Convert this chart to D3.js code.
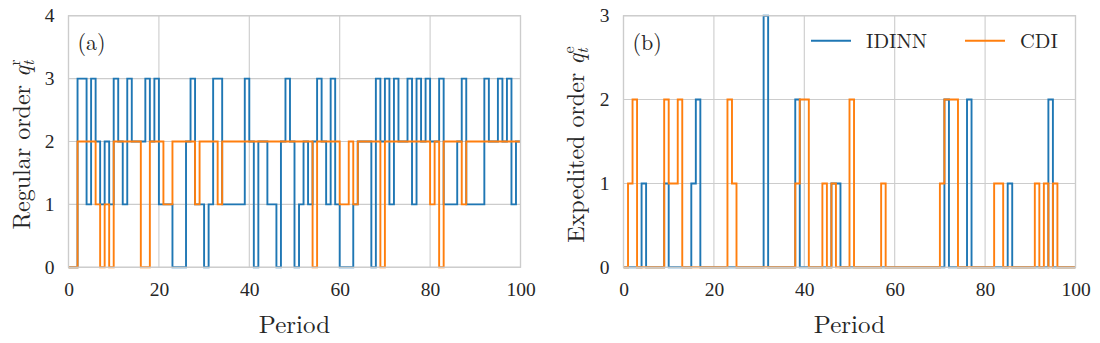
<!DOCTYPE html>
<html><head><meta charset="utf-8">
<script src="https://cdn.jsdelivr.net/npm/d3@7"></script>
<style>
body{margin:0;background:#fff}
svg{display:block}
text{font-family:"Latin Modern Roman","CMU Serif","Liberation Serif","Times New Roman",serif;fill:#262626}
</style>
</head><body><svg id="c" width="1100" height="343"></svg>
<script>
// ---------- data ----------
const xTicks = [0, 20, 40, 60, 80, 100];
const yTicksA = [0, 1, 2, 3, 4];
const yTicksB = [0, 1, 2, 3];
const seriesNames = ["IDINN", "CDI"];

// Panel (a): regular order per period 0..99
const regularIDINN = [0,0,3,3,1,3,2,1,2,1, 3,2,1,3,2,2,2,3,2,3, 1,1,1,0,0,0,2,3,1,1,
  0,1,3,3,1,1,1,1,1,3, 2,0,2,2,1,1,0,2,3,2, 0,1,2,1,2,3,2,1,3,1,
  0,0,0,1,2,2,2,0,3,2, 3,1,3,2,2,3,1,3,2,3, 2,2,3,1,1,1,2,3,1,1, 1,1,3,2,2,3,2,3,1,2];
const regularCDI = [0,0,2,2,2,2,1,0,1,0, 2,2,2,2,2,2,0,0,2,2, 2,1,1,2,2,2,2,2,1,2,
  2,2,2,1,2,2,2,2,2,2, 2,2,2,2,2,2,2,2,2,2, 2,2,2,2,0,2,2,2,2,2,
  1,1,2,1,2,2,2,2,2,0, 2,2,2,2,2,2,2,2,2,2, 1,2,0,2,2,2,2,1,2,2, 2,2,2,2,2,2,2,2,2,2];

// Panel (b): expedited order per period 0..99
const expeditedIDINN = [0,0,0,0,1,0,0,0,0,1, 0,0,0,0,0,1,2,0,0,0, 0,0,0,0,0,0,0,0,0,0,
  0,3,0,0,0,0,0,0,2,0, 0,0,0,0,0,0,1,1,0,0, 0,0,0,0,0,0,0,0,0,0,
  0,0,0,0,0,0,0,0,0,0, 0,2,0,0,0,0,2,0,0,0, 0,0,0,0,0,1,0,0,0,0, 0,0,0,0,2,0,0,0,0,0];
const expeditedCDI = [0,1,2,0,0,0,0,0,0,2, 1,1,2,0,0,0,0,0,0,0, 0,0,0,2,1,0,0,0,0,0,
  0,0,0,0,0,0,0,0,1,2, 2,0,0,0,1,0,1,0,0,0, 2,0,0,0,0,0,0,1,0,0,
  0,0,0,0,0,0,0,0,0,0, 1,2,2,2,0,0,0,0,0,0, 0,0,1,1,0,0,0,0,0,0, 0,1,0,1,0,1,0,0,0,0];

// ---------- layout ----------
const colors = ["#1f77b4", "#ff7f0e"];
const gridColor = "#cccccc";
const svg = d3.select("#c");

function panel(opt) {
  const x = d3.scaleLinear().domain([0, 100]).range([opt.left, opt.right]);
  const y = d3.scaleLinear().domain([0, opt.ymax]).range([opt.bottom, opt.top]);
  const g = svg.append("g");
  // grid
  g.append("g").selectAll("line").data(xTicks).join("line")
    .attr("x1", d => x(d)).attr("x2", d => x(d)).attr("y1", opt.top).attr("y2", opt.bottom)
    .attr("stroke", gridColor).attr("stroke-width", 1.1);
  g.append("g").selectAll("line").data(opt.yTicks).join("line")
    .attr("x1", opt.left).attr("x2", opt.right).attr("y1", d => y(d)).attr("y2", d => y(d))
    .attr("stroke", gridColor).attr("stroke-width", 1.1);
  // axes (labels only)
  const xa = g.append("g").attr("transform", `translate(0,${opt.bottom})`)
    .call(d3.axisBottom(x).tickValues(xTicks).tickSize(0).tickPadding(15).tickFormat(d3.format("d")));
  const ya = g.append("g").attr("transform", `translate(${opt.left},0)`)
    .call(d3.axisLeft(y).tickValues(opt.yTicks).tickSize(0).tickPadding(14).tickFormat(d3.format("d")));
  [xa, ya].forEach(a => {
    a.select(".domain").remove();
    a.selectAll("text").attr("font-size", 19.5).attr("fill", "#262626")
      .style("font-family", '"Liberation Serif",serif');
  });
  // lines
  const line = d3.line().x(d => x(d[0])).y(d => y(d[1])).curve(d3.curveStepAfter);
  opt.series.forEach((s, i) => {
    const pts = s.map((v, k) => [k, v]);
    pts.push([100, s[s.length - 1]]);
    g.append("path").datum(pts).attr("d", line).attr("fill", "none")
      .attr("stroke", colors[i]).attr("stroke-width", 1.9).attr("stroke-linejoin", "miter");
  });
  // frame
  g.append("rect").attr("x", opt.left).attr("y", opt.top)
    .attr("width", opt.right - opt.left).attr("height", opt.bottom - opt.top)
    .attr("fill", "none").attr("stroke", gridColor).attr("stroke-width", 1.3);
  // panel tag
  g.append("text").attr("x", opt.left + 9).attr("y", opt.top + 34)
    .attr("font-size", 22).text(opt.tag);
  // x label
  g.append("text").attr("x", (opt.left + opt.right) / 2).attr("y", 333)
    .attr("text-anchor", "middle").attr("font-size", 25).text("Period");
  // y label
  const cy = (opt.top + opt.bottom) / 2 + 3;
  const yl = g.append("text").attr("transform", `translate(${opt.ylx},${cy}) rotate(-90)`)
    .attr("text-anchor", "middle").attr("font-size", 24);
  yl.append("tspan").text(opt.ylabel + " ");
  yl.append("tspan").attr("font-style", "italic").text("q");
  yl.append("tspan").attr("font-style", "italic").attr("font-size", 16).attr("dy", 4).text("t");
  yl.append("tspan").attr("font-size", 16).attr("dx", -5).attr("dy", -14).text(opt.sup);
  return { x, y, g };
}

panel({ left: 68.5, right: 520.5, top: 15.7, bottom: 267.3, ymax: 4, yTicks: yTicksA,
  series: [regularIDINN, regularCDI], tag: "(a)", ylabel: "Regular order", sup: "r", ylx: 30 });
const pb = panel({ left: 623.5, right: 1075.5, top: 15.7, bottom: 267.3, ymax: 3, yTicks: yTicksB,
  series: [expeditedIDINN, expeditedCDI], tag: "(b)", ylabel: "Expedited order", sup: "e", ylx: 584 });

// legend
const legendX = [811, 965];
const lg = pb.g.append("g");
seriesNames.forEach((n, i) => {
  lg.append("line").attr("x1", legendX[i]).attr("x2", legendX[i] + 40)
    .attr("y1", 40.7).attr("y2", 40.7).attr("stroke", colors[i]).attr("stroke-width", 1.9);
  lg.append("text").attr("x", legendX[i] + 55).attr("y", 48).attr("font-size", 20.5).text(n);
});
</script></body></html>
